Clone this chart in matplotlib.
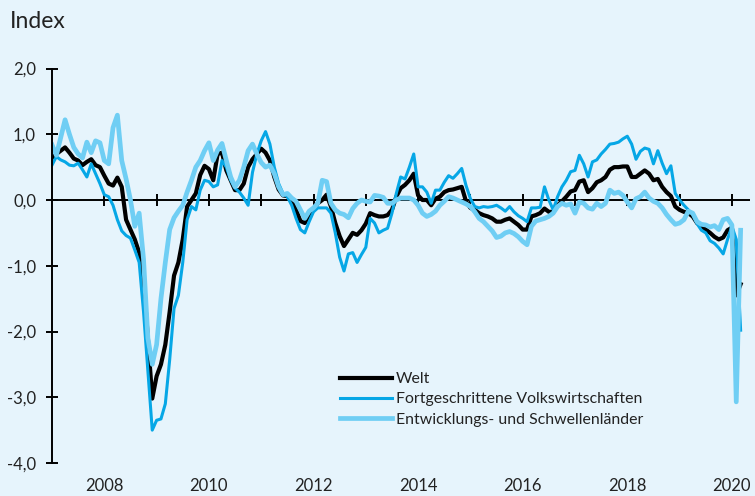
import numpy as np
import matplotlib
matplotlib.use("Agg")
import matplotlib.pyplot as plt

# monthly values, Jan 2007 .. Mar 2020
welt = [0.64, 0.70, 0.75, 0.80, 0.72, 0.63, 0.60, 0.53, 0.58, 0.62, 0.53, 0.50,
        0.37, 0.25, 0.22, 0.34, 0.20, -0.30, -0.45, -0.60, -0.80, -1.20, -2.10, -3.02,
        -2.68, -2.50, -2.20, -1.70, -1.15, -0.95, -0.60, -0.10, 0.00, 0.10, 0.38, 0.52,
        0.47, 0.30, 0.70, 0.72, 0.45, 0.30, 0.15, 0.15, 0.25, 0.50, 0.62, 0.70,
        0.78, 0.72, 0.60, 0.35, 0.16, 0.07, 0.06, 0.00, -0.15, -0.32, -0.35, -0.22,
        -0.15, -0.05, 0.00, 0.08, -0.10, -0.35, -0.55, -0.70, -0.60, -0.50, -0.53, -0.46,
        -0.36, -0.20, -0.23, -0.25, -0.25, -0.23, -0.15, 0.05, 0.18, 0.23, 0.30, 0.40,
        0.07, 0.00, 0.00, -0.08, 0.02, 0.05, 0.12, 0.15, 0.16, 0.18, 0.20, -0.02,
        -0.12, -0.15, -0.20, -0.23, -0.25, -0.28, -0.33, -0.33, -0.30, -0.28, -0.33, -0.38,
        -0.45, -0.45, -0.25, -0.23, -0.20, -0.13, -0.18, -0.18, -0.08, -0.02, 0.05, 0.13,
        0.15, 0.28, 0.30, 0.12, 0.18, 0.27, 0.30, 0.35, 0.46, 0.50, 0.50, 0.51,
        0.51, 0.35, 0.35, 0.40, 0.45, 0.40, 0.30, 0.32, 0.20, 0.12, 0.06, -0.10,
        -0.15, -0.18, -0.20, -0.25, -0.35, -0.40, -0.45, -0.50, -0.56, -0.60, -0.57, -0.46,
        -0.42, -1.45, -1.28]

fortgeschritten = [0.53, 0.66, 0.61, 0.58, 0.53, 0.52, 0.56, 0.46, 0.35, 0.55, 0.40, 0.25,
        0.08, 0.05, -0.08, -0.30, -0.47, -0.54, -0.58, -0.76, -0.95, -1.70, -2.60, -3.50,
        -3.35, -3.33, -3.10, -2.43, -1.65, -1.45, -0.95, -0.30, -0.10, -0.15, 0.15, 0.30,
        0.28, 0.20, 0.23, 0.60, 0.50, 0.30, 0.18, 0.12, 0.03, -0.08, 0.42, 0.70,
        0.90, 1.04, 0.85, 0.50, 0.25, 0.10, 0.05, -0.08, -0.28, -0.45, -0.50, -0.33,
        -0.18, -0.12, -0.12, -0.12, -0.20, -0.50, -0.87, -1.08, -0.82, -0.80, -0.95, -0.83,
        -0.72, -0.28, -0.35, -0.50, -0.46, -0.43, -0.20, 0.10, 0.35, 0.32, 0.50, 0.70,
        0.20, 0.20, 0.12, -0.05, 0.15, 0.15, 0.27, 0.37, 0.33, 0.40, 0.48, 0.22,
        0.02, -0.10, -0.12, -0.10, -0.11, -0.10, -0.08, -0.12, -0.17, -0.10, -0.18, -0.24,
        -0.28, -0.33, -0.12, -0.12, -0.11, 0.20, 0.00, -0.15, 0.05, 0.20, 0.30, 0.43,
        0.45, 0.68, 0.55, 0.35, 0.58, 0.61, 0.70, 0.77, 0.85, 0.86, 0.88, 0.93,
        0.97, 0.85, 0.62, 0.74, 0.79, 0.77, 0.55, 0.75, 0.56, 0.40, 0.52, 0.10,
        0.00, -0.08, -0.15, -0.22, -0.36, -0.46, -0.50, -0.62, -0.66, -0.73, -0.82, -0.60,
        -0.40, -0.60, -1.98]

schwellen = [0.84, 0.68, 0.95, 1.22, 1.00, 0.80, 0.70, 0.64, 0.88, 0.72, 0.90, 0.87,
        0.60, 0.55, 1.10, 1.29, 0.60, 0.32, 0.00, -0.40, -0.20, -0.90, -2.10, -2.50,
        -2.20, -1.50, -0.95, -0.45, -0.27, -0.17, -0.08, 0.12, 0.30, 0.50, 0.60, 0.75,
        0.87, 0.60, 0.76, 0.86, 0.60, 0.35, 0.20, 0.30, 0.50, 0.75, 0.85, 0.70,
        0.57, 0.50, 0.53, 0.40, 0.20, 0.08, 0.10, 0.03, -0.02, -0.15, -0.28, -0.17,
        -0.12, -0.05, 0.30, 0.28, -0.05, -0.15, -0.20, -0.22, -0.27, -0.13, -0.05, 0.00,
        -0.02, -0.03, 0.07, 0.06, 0.04, -0.05, -0.05, 0.00, 0.03, 0.03, 0.03, 0.00,
        -0.08, -0.20, -0.25, -0.22, -0.17, -0.08, -0.02, 0.05, 0.03, 0.00, -0.03, -0.06,
        -0.10, -0.18, -0.28, -0.33, -0.40, -0.47, -0.57, -0.55, -0.50, -0.48, -0.51, -0.56,
        -0.63, -0.68, -0.40, -0.32, -0.30, -0.28, -0.25, -0.20, -0.10, -0.05, -0.08, -0.06,
        -0.20, -0.03, -0.05, -0.12, -0.14, -0.05, -0.10, -0.05, 0.15, 0.10, 0.12, 0.07,
        -0.03, -0.12, 0.02, 0.05, 0.12, 0.03, -0.02, -0.05, -0.12, -0.22, -0.30, -0.37,
        -0.35, -0.30, -0.17, -0.20, -0.33, -0.37, -0.38, -0.41, -0.39, -0.45, -0.30, -0.28,
        -0.38, -3.07, -0.46]

labels = ["Welt", "Fortgeschrittene Volkswirtschaften", "Entwicklungs- und Schwellenländer"]
year_ticks = [2008, 2010, 2012, 2014, 2016, 2018, 2020]
y_ticks = [2, 1, 0, -1, -2, -3, -4]
y_ticklabels = ["2,0", "1,0", "0,0", "-1,0", "-2,0", "-3,0", "-4,0"]

bg = "#e6f4fc"
c_welt = "#000000"
c_fort = "#06a7e6"
c_schw = "#6fcef4"

plt.rcParams["font.family"] = ["Lato", "DejaVu Sans"]

t = 2007 + np.arange(len(welt)) / 12.0

fig = plt.figure(figsize=(7.55, 4.96), dpi=100, facecolor=bg)
ax = fig.add_axes([52 / 755, 1 - 463 / 496, 698 / 755, (463 - 68.5) / 496])
ax.set_facecolor(bg)

ax.plot(t, welt, color=c_welt, lw=3.0, label=labels[0], solid_joinstyle="round")
ax.plot(t, fortgeschritten, color=c_fort, lw=2.2, label=labels[1], solid_joinstyle="round")
ax.plot(t, schwellen, color=c_schw, lw=3.4, label=labels[2], solid_joinstyle="round")

ax.axhline(0, color="black", lw=1.4, zorder=1)
ax.plot(np.arange(2008, 2021), np.zeros(13), ls="none", marker="|", ms=8, mew=1.4,
        color="black", zorder=1)

ax.set_xlim(2007, 2007 + 698 / 52.3)
ax.set_ylim(-4, 2)

for s in ["top", "right", "bottom"]:
    ax.spines[s].set_visible(False)
ax.spines["left"].set_linewidth(1.4)
ax.spines["left"].set_bounds(-4, 2)

ax.set_yticks(y_ticks)
ax.set_yticklabels(y_ticklabels)
ax.tick_params(axis="y", direction="inout", length=9, width=1.4, pad=7,
               labelsize=12, labelcolor="#222222")
ax.set_xticks(year_ticks)
ax.set_xticklabels([str(y) for y in year_ticks])
ax.tick_params(axis="x", length=0, pad=11, labelsize=12, labelcolor="#222222")

fig.text(10 / 755, 1 - 28 / 496, "Index", fontsize=16.5, color="#222222",
         ha="left", va="baseline")

leg = ax.legend(loc="upper left", bbox_to_anchor=(340 / 755, 1 - 372 / 496),
                bbox_transform=fig.transFigure, frameon=False, fontsize=11.4,
                handlelength=3.3, handletextpad=0.25, labelspacing=0.4,
                borderpad=0, borderaxespad=0)
for txt in leg.get_texts():
    txt.set_color("#222222")

fig.savefig("out.png", dpi=100, facecolor=bg)
